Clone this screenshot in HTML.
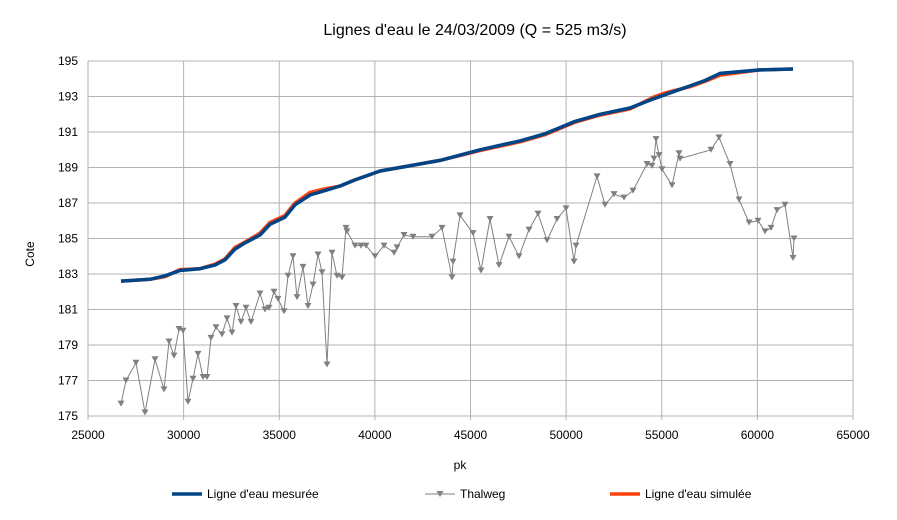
<!DOCTYPE html>
<html><head><meta charset="utf-8"><style>
body{margin:0;background:#fff;}
svg{display:block;font-family:"Liberation Sans",sans-serif;}
</style></head><body>
<svg id="chart" width="897" height="520"></svg>
<script>
const xTicks=[25000,30000,35000,40000,45000,50000,55000,60000,65000];
const yTicks=[175,177,179,181,183,185,187,189,191,193,195];
const measPk=[26726,28242,29026,29811,30856,31641,32164,32687,33210,33994,34517,35301,35824,36608,37393,38177,38961,39746,40269,41314,43406,45498,47589,48897,50465,51772,53341,54648,55171,56479,57263,58048,59094,60139,61864];
const measCote=[182.6,182.7,182.9,183.2,183.3,183.5,183.8,184.4,184.75,185.2,185.8,186.2,186.9,187.45,187.7,187.96,188.3,188.6,188.8,189.0,189.4,190.0,190.5,190.9,191.6,192.0,192.35,192.9,193.1,193.6,193.9,194.3,194.4,194.5,194.55];
const simPk=[26726,28242,29026,29811,30856,31641,32164,32687,33210,33994,34517,35301,35824,36608,37393,38177,38961,39746,40269,41314,43406,45498,47589,48897,50465,51772,53341,54648,55171,56479,57263,58048,59094,60139,61864];
const simCote=[182.6,182.7,182.85,183.25,183.3,183.55,183.85,184.5,184.8,185.3,185.9,186.3,187.0,187.6,187.8,187.95,188.3,188.6,188.8,189.0,189.4,189.95,190.45,190.85,191.55,191.95,192.3,193.0,193.2,193.55,193.85,194.2,194.35,194.5,194.55];
const thalPk=[26726,26987,27510,27981,28503,28974,29235,29497,29758,29968,30229,30490,30752,31013,31222,31432,31693,32007,32268,32530,32739,33000,33262,33523,33994,34255,34464,34726,34935,35249,35458,35719,35929,36242,36504,36765,37027,37236,37497,37759,38020,38282,38491,38543,38961,39275,39537,40007,40478,41001,41158,41524,41994,42988,43511,44034,44086,44452,45132,45550,46021,46491,47014,47537,48060,48531,49001,49524,49995,50413,50518,51616,52034,52505,53028,53498,54230,54492,54596,54701,54858,55014,55537,55903,55956,57577,57995,58570,59041,59564,60034,60400,60714,61028,61446,61864,61917];
const thalCote=[175.7,177.0,178.0,175.2,178.2,176.5,179.2,178.4,179.9,179.8,175.8,177.1,178.5,177.2,177.2,179.4,180.0,179.6,180.5,179.7,181.2,180.3,181.1,180.3,181.9,181.0,181.1,182.0,181.6,180.9,182.9,184.0,181.7,183.4,181.2,182.4,184.1,183.1,177.9,184.2,182.9,182.8,185.6,185.4,184.6,184.6,184.6,184.0,184.6,184.2,184.5,185.2,185.1,185.1,185.6,182.8,183.7,186.3,185.3,183.2,186.1,183.5,185.1,184.0,185.5,186.4,184.9,186.1,186.7,183.7,184.6,188.5,186.9,187.5,187.3,187.7,189.2,189.1,189.5,190.6,189.7,188.9,188.0,189.8,189.5,190.0,190.7,189.2,187.2,185.9,186.0,185.4,185.6,186.6,186.9,183.9,185.0];

const X0=88,X1=853,Y0=61,Y1=416;
const sx=v=>X0+(v-25000)/40000*(X1-X0);
const sy=v=>Y1-(v-175)/20*(Y1-Y0);
const svg=document.getElementById('chart');
const NS='http://www.w3.org/2000/svg';
function mk(tag,attrs,parent){const e=document.createElementNS(NS,tag);for(const k in attrs)e.setAttribute(k,attrs[k]);(parent||svg).appendChild(e);return e;}

let t=mk('text',{x:475,y:35,'text-anchor':'middle','font-size':16,fill:'#000'});


t.textContent="Lignes d'eau le 24/03/2009 (Q = 525 m3/s)";

yTicks.forEach(v=>{
  const g=mk('line',{x1:X0,x2:X1,y1:sy(v),y2:sy(v),stroke:'#b3b3b3','stroke-width':1});
  
  
  const l=mk('text',{x:78,y:sy(v)+4,'text-anchor':'end','font-size':12,fill:'#000'});
  
  
  l.textContent=v;
});
xTicks.forEach(v=>{
  const g=mk('line',{x1:sx(v),x2:sx(v),y1:Y0,y2:Y1+4,stroke:'#b3b3b3','stroke-width':1});
  
  
  const l=mk('text',{x:sx(v),y:439,'text-anchor':'middle','font-size':12,fill:'#000'});
  
  
  l.textContent=v;
});
let yt=mk('text',{x:34,y:254,'text-anchor':'middle','font-size':12,transform:'rotate(-90 34 254)'});


yt.textContent='Cote';
let xt=mk('text',{x:460,y:469,'text-anchor':'middle','font-size':12});


xt.textContent='pk';

function pts(xs,ys){return xs.map((x,i)=>sx(x).toFixed(1)+','+sy(ys[i]).toFixed(1)).join(' ');}
function tri(cx,cy,parent){
  const m=mk('path',{d:`M${cx-3.5},${cy-3} L${cx+3.5},${cy-3} L${cx},${cy+3} Z`,fill:'#808080'},parent);
  
  
}
let th=mk('polyline',{points:pts(thalPk,thalCote),fill:'none',stroke:'#808080','stroke-width':1});


thalPk.forEach((x,i)=>tri(sx(x),sy(thalCote[i])));
let sim=mk('polyline',{points:pts(simPk,simCote),fill:'none',stroke:'#ff420e','stroke-width':3.5,'stroke-linejoin':'round'});


let mes=mk('polyline',{points:pts(measPk,measCote),fill:'none',stroke:'#004586','stroke-width':3.5,'stroke-linejoin':'round'});



function legend(x,color,w,label,name,marker){
  const g=mk('g',{});
  
  
  mk('line',{x1:x,x2:x+30,y1:494,y2:494,stroke:color,'stroke-width':w},g);
  if(marker)tri(x+15,494,g);
  const tx=mk('text',{x:x+35,y:498,'font-size':12},g);
  tx.textContent=label;
}
legend(172,'#004586',3.5,"Ligne d'eau mesurée",'legend-measured',false);
legend(425,'#808080',1,'Thalweg','legend-thalweg',true);
legend(610,'#ff420e',3.5,"Ligne d'eau simulée",'legend-simulated',false);
</script>
</body></html>
